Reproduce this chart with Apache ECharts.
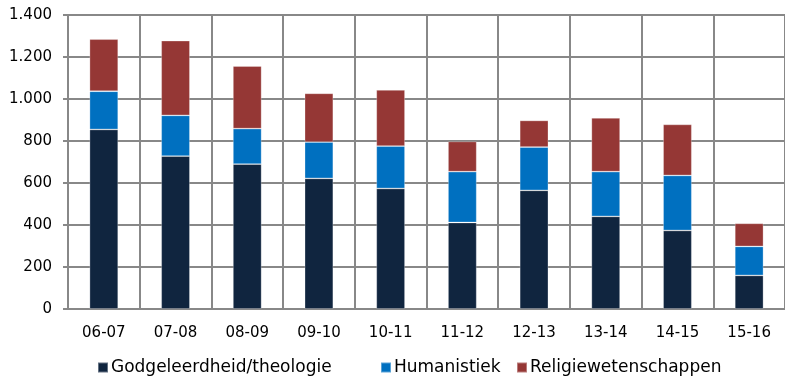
<!DOCTYPE html>
<html>
<head>
<meta charset="utf-8">
<script src="https://cdn.jsdelivr.net/npm/echarts@6/dist/echarts.min.js"></script>
<style>html,body{margin:0;padding:0;background:#fff}#c{width:785px;height:380px}</style>
</head>
<body>
<div id="c"></div>
<script>
var categories = ['06-07','07-08','08-09','09-10','10-11','11-12','12-13','13-14','14-15','15-16'];
var theologie = [855, 728, 690, 622, 574, 412, 565, 441, 374, 160];
var humanistiek = [182, 194, 169, 173, 202, 242, 206, 213, 262, 138];
var religie = [248, 356, 298, 232, 267, 144, 127, 256, 243, 110];
var seriesNames = ['Godgeleerdheid/theologie', 'Humanistiek', 'Religiewetenschappen'];
var colors = ['#10253F', '#0070C0', '#953735'];

var FONT = '"DejaVu Sans", Verdana, sans-serif';
var chart = echarts.init(document.getElementById('c'), null, {renderer: 'canvas'});
function mkSeries(name, data, color) {
  return {
    name: name, type: 'bar', stack: 'total', data: data, barWidth: '40%',
    itemStyle: {color: color, borderColor: 'rgba(255,255,255,0.35)', borderWidth: 0.8},
    emphasis: {disabled: true}
  };
}
function mkLegend(name, left) {
  return {
    data: [name], left: left, top: 359, itemWidth: 10, itemHeight: 10, icon: 'rect',
    itemGap: 0, padding: 0,
    textStyle: {fontFamily: FONT, fontSize: 17, color: '#000', padding: [0, 0, 0, -2]}
  };
}
chart.setOption({
  animation: false,
  color: colors,
  grid: {left: 68, right: -8, top: 15, bottom: 71, containLabel: false},
  legend: [mkLegend(seriesNames[0], 97), mkLegend(seriesNames[1], 380), mkLegend(seriesNames[2], 516)],
  xAxis: {
    type: 'category', data: categories, boundaryGap: true,
    axisLine: {show: true, lineStyle: {color: '#888', width: 2}},
    axisTick: {show: false},
    splitLine: {show: true, lineStyle: {color: '#888', width: 2}},
    axisLabel: {fontFamily: FONT, fontSize: 15, color: '#000', margin: 17}
  },
  yAxis: {
    type: 'value', min: 0, max: 1400, interval: 200,
    axisLine: {show: true, lineStyle: {color: '#888', width: 2}},
    axisTick: {show: true, length: 5, lineStyle: {color: '#888', width: 2}},
    splitLine: {show: true, lineStyle: {color: '#888', width: 2}},
    axisLabel: {
      fontFamily: FONT, fontSize: 15, color: '#000', margin: 16,
      formatter: function (v) { return v >= 1000 ? Math.floor(v / 1000) + '.' + String(v % 1000).padStart(3, '0') : String(v); }
    }
  },
  series: [
    mkSeries(seriesNames[0], theologie, colors[0]),
    mkSeries(seriesNames[1], humanistiek, colors[1]),
    mkSeries(seriesNames[2], religie, colors[2])
  ]
});
</script>
</body>
</html>
